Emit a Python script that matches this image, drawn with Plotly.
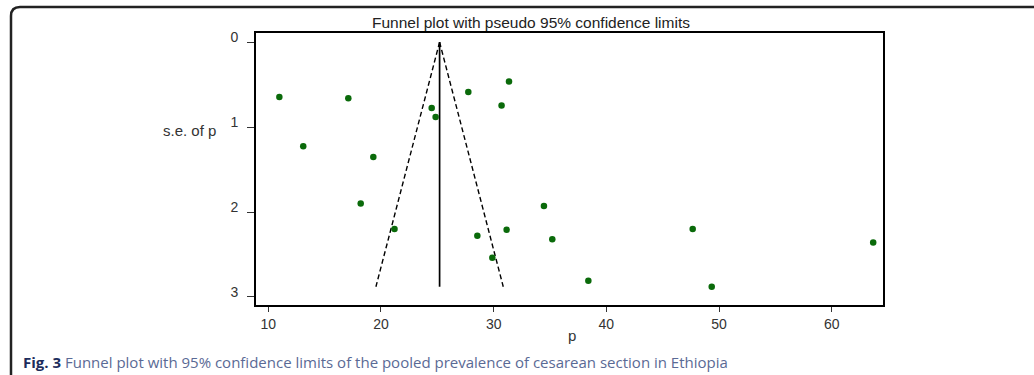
import plotly.graph_objects as go

# ---- data ----
p_values = [10.98, 17.1, 13.1, 19.32, 24.5, 24.85, 27.75, 31.36, 30.7,
            18.2, 21.2, 28.55, 29.88, 31.15, 34.46, 35.2, 47.66, 63.68, 38.4, 49.35]
se_values = [0.647, 0.659, 1.227, 1.353, 0.776, 0.882, 0.588, 0.462, 0.745,
             1.90, 2.20, 2.28, 2.54, 2.21, 1.93, 2.32, 2.20, 2.36, 2.81, 2.88]
pooled_p = 25.2
funnel_se = [0.0, 2.88]
funnel_lower = [25.2, 19.55]
funnel_upper = [25.2, 30.85]
x_ticks = [10, 20, 30, 40, 50, 60]
y_ticks = [0, 1, 2, 3]

W, H = 1034, 375
L, R, T, B = 256, 883, 33, 305
PW, PH = R - L, B - T


def px(x):
    return (x - L) / PW


def py(y):
    return (B - y) / PH


fig = go.Figure()
for xs in (funnel_lower, funnel_upper):
    fig.add_trace(go.Scatter(x=xs, y=funnel_se, mode="lines",
                             line=dict(color="black", width=1.4, dash="5px,3px"),
                             showlegend=False, hoverinfo="skip"))
fig.add_trace(go.Scatter(x=[pooled_p, pooled_p], y=funnel_se, mode="lines",
                         line=dict(color="black", width=1.7),
                         showlegend=False, hoverinfo="skip"))
fig.add_trace(go.Scatter(x=p_values, y=se_values, mode="markers",
                         marker=dict(color="#0a6a0a", size=6.5,
                                     line=dict(width=0)),
                         showlegend=False))

tickfont = dict(family="Liberation Sans, Arial, sans-serif", size=14, color="#333333")

fig.update_xaxes(range=[8.908, 64.55], tickvals=x_ticks, showgrid=False,
                 zeroline=False, showline=True, linecolor="black", linewidth=2,
                 mirror=True, ticks="outside", ticklen=5, tickcolor="#333",
                 tickwidth=1, tickfont=tickfont)
fig.update_yaxes(range=[3.095, -0.108], tickvals=y_ticks, showgrid=False,
                 zeroline=False, showline=True, linecolor="black", linewidth=2,
                 mirror=True, ticks="outside", ticklen=7, tickcolor="#333",
                 tickwidth=1, tickfont=tickfont, ticklabelstandoff=6,
                 ticklabelshift=5)

annotations = [
    dict(text="Funnel plot with pseudo 95% confidence limits", x=px(531), y=py(33),
         xref="paper", yref="paper", xanchor="center", yanchor="bottom",
         showarrow=False, font=dict(family="Liberation Sans, Arial", size=15.5, color="#222")),
    dict(text="s.e. of p", x=px(218), y=py(130), xref="paper", yref="paper",
         xanchor="right", yanchor="middle", showarrow=False,
         font=dict(family="Liberation Sans, Arial", size=15, color="#333")),
    dict(text="p", x=px(572), y=py(335), xref="paper", yref="paper",
         xanchor="center", yanchor="middle", showarrow=False,
         font=dict(family="Liberation Sans, Arial", size=15, color="#333")),
    dict(text="<b>Fig. 3</b> <span style='color:#5a6a95'>Funnel plot with 95% confidence limits of the pooled prevalence of cesarean section in Ethiopia</span>",
         x=px(21), y=py(362), xref="paper", yref="paper", xanchor="left",
         yanchor="middle", showarrow=False,
         font=dict(family="Open Sans, sans-serif", size=15, color="#1c2c5c")),
]

# outer figure frame (rounded corner top-left)
frame_path = (f"M {px(11)} {py(380)} L {px(11)} {py(16)} "
              f"Q {px(11)} {py(7)} {px(20)} {py(7)} L {px(1040)} {py(7)}")
shapes = [dict(type="path", path=frame_path, xref="paper", yref="paper",
               line=dict(color="#222", width=2.5))]

fig.update_layout(width=W, height=H, margin=dict(l=L, r=W - R, t=T, b=H - B),
                  plot_bgcolor="white", paper_bgcolor="white",
                  annotations=annotations, shapes=shapes)

fig.write_html("out.html")
